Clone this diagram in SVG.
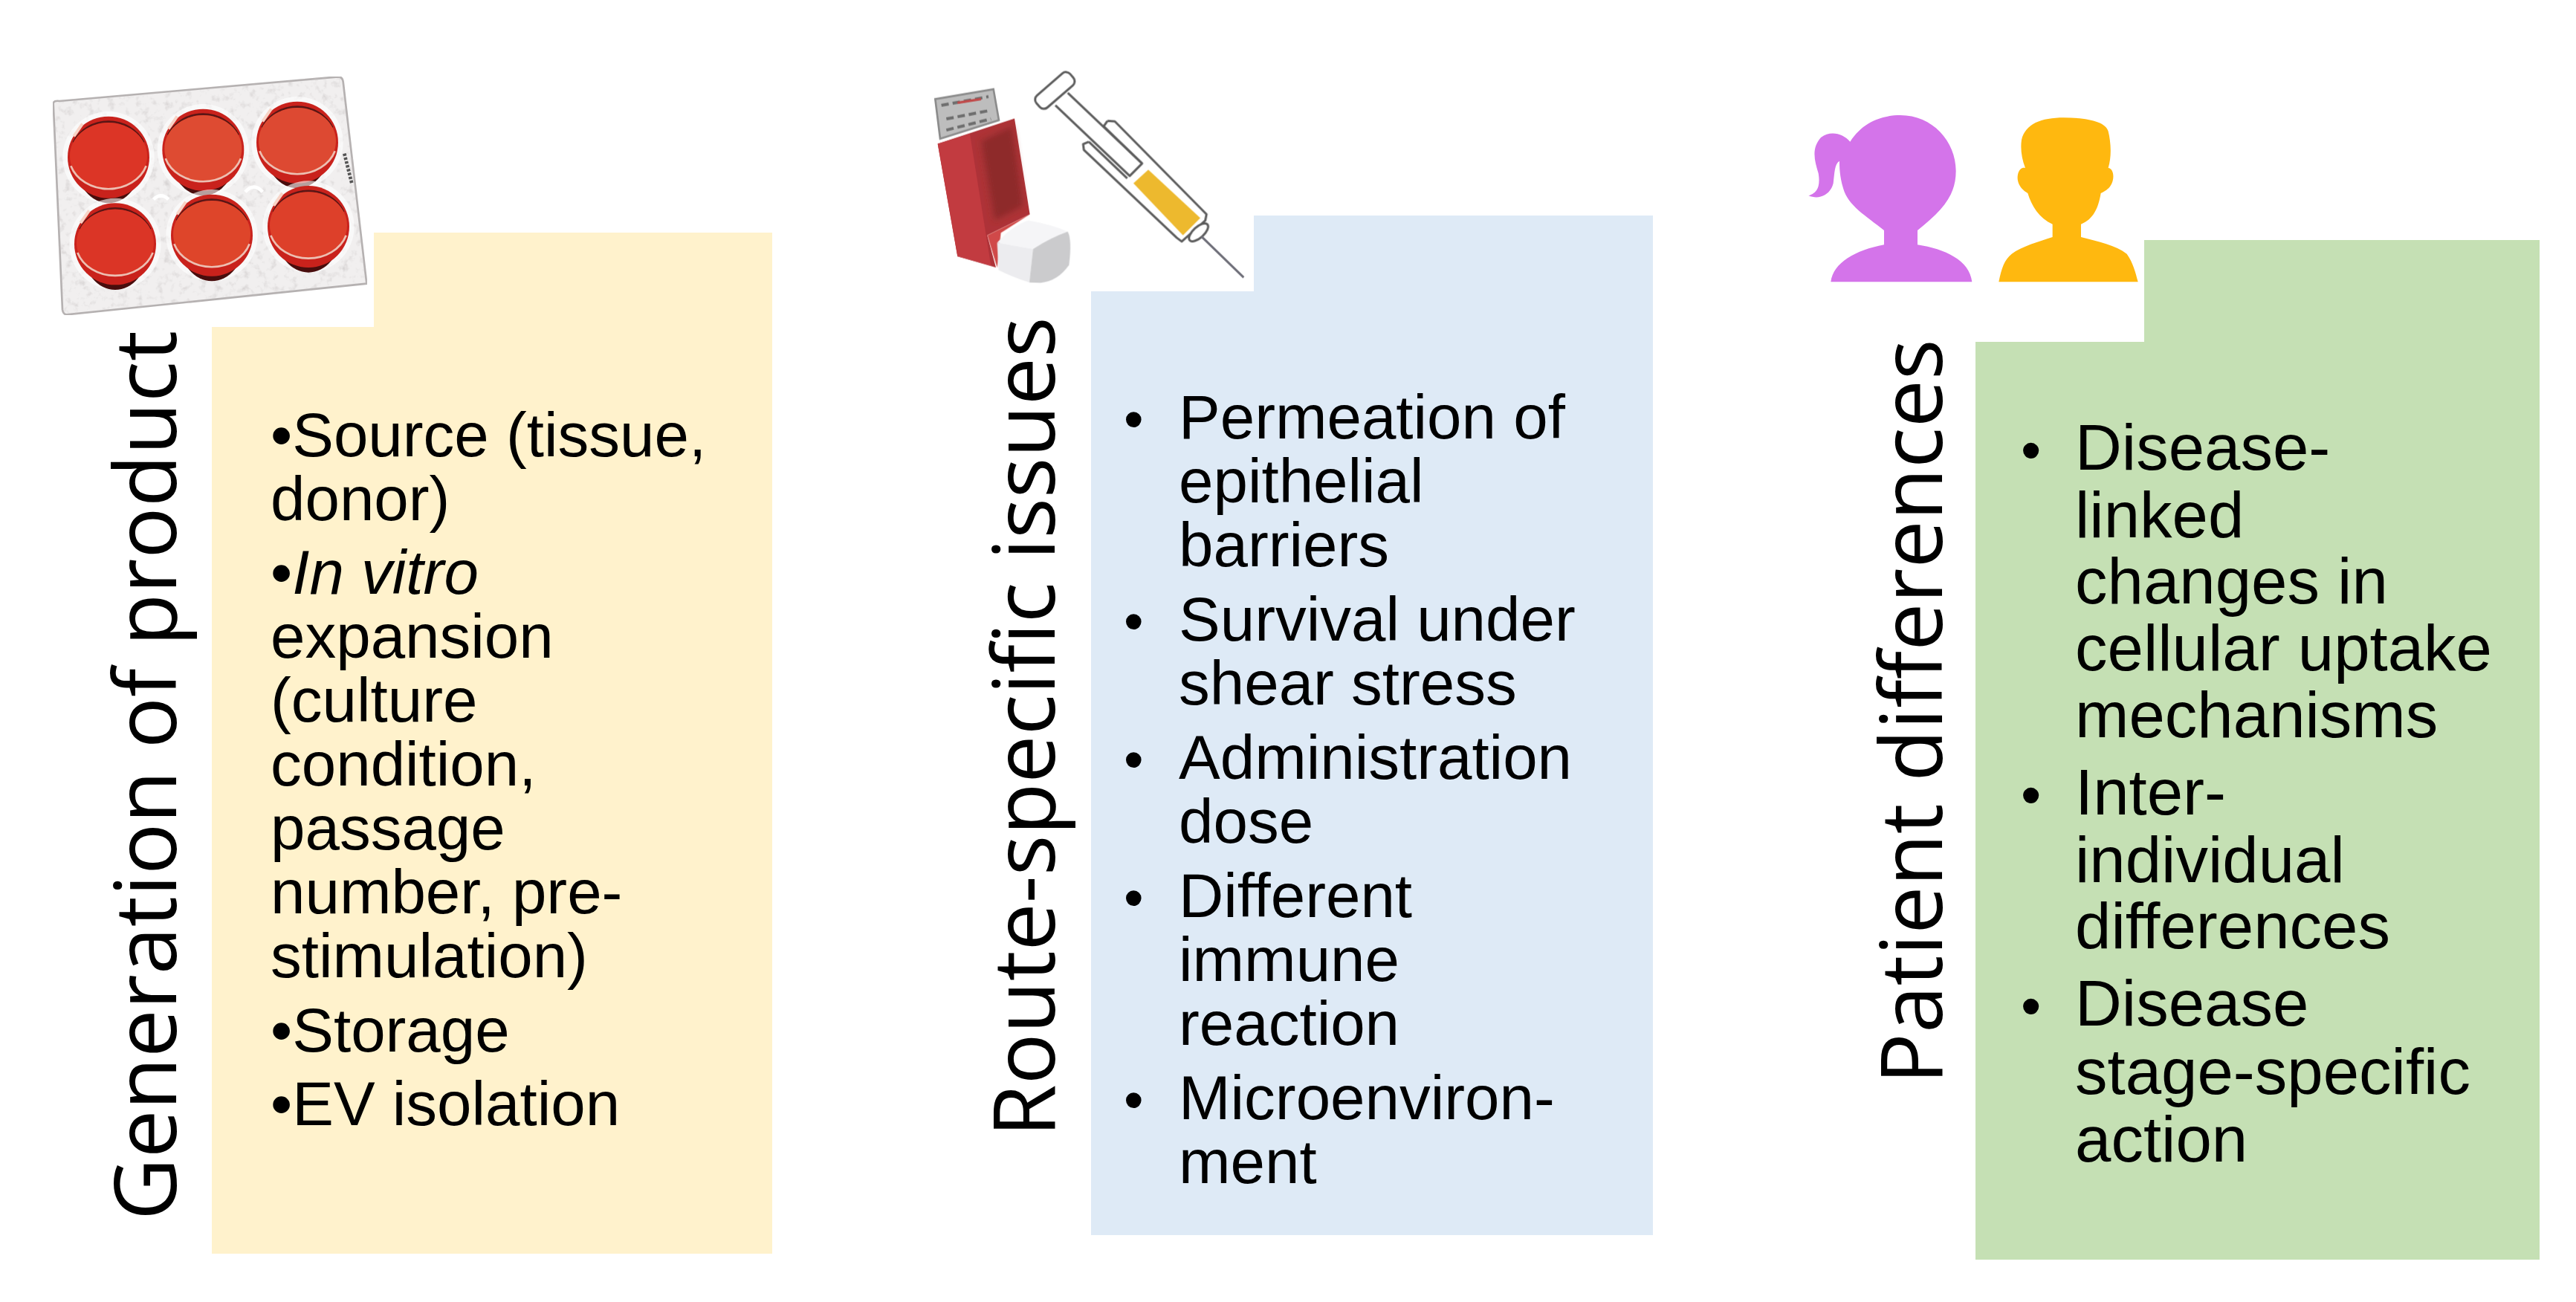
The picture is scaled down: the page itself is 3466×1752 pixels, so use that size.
<svg xmlns="http://www.w3.org/2000/svg" width="3466" height="1752" viewBox="0 0 3466 1752">
<style>
text{font-family:"Liberation Sans",Arial,sans-serif;fill:#000}
.y{font-size:83.5px}
.b{font-size:83.5px}
.g{font-size:87px}
.bb{font-size:76px}
.gb{font-size:78px}
.t{font-family:"Open Sans","Noto Sans",sans-serif;font-size:114.5px}
.t1{font-size:115.2px}
</style>
<defs>
<filter id="soft" x="-5%" y="-5%" width="110%" height="110%"><feGaussianBlur stdDeviation="1.3"/></filter>
<filter id="soft2" x="-20%" y="-20%" width="140%" height="140%"><feGaussianBlur stdDeviation="12"/></filter>
<filter id="mottle" x="0" y="0" width="100%" height="100%">
<feTurbulence type="fractalNoise" baseFrequency="0.035" numOctaves="3" seed="4"/>
<feColorMatrix type="matrix" values="0 0 0 0 0.55  0 0 0 0 0.52  0 0 0 0 0.52  1.5 0 0 0 -0.78"/>
<feComposite in2="SourceGraphic" operator="in" result="n"/>
<feMerge><feMergeNode in="SourceGraphic"/><feMergeNode in="n"/></feMerge>
</filter>
<g id="wl">
<circle r="185" fill="#fff" opacity=".6"/>
<ellipse cx="0" cy="25" rx="130" ry="160" fill="#4A0F0D"/>
<circle cx="0" cy="0" r="165" fill="#C9241E"/>
<path d="M-142,-60A158,150 0 0 1 142,-60" fill="none" stroke="#5A1512" stroke-width="8"/>
<ellipse cx="0" cy="-5" rx="156" ry="135"/>
<path d="M-152,35A160,135 0 0 0 152,35" fill="none" stroke="#EDBFB2" stroke-width="8"/>
<path d="M-140,-85L-105,-135" stroke="#F7D3C6" stroke-width="12" fill="none"/>
</g>
</defs>
<rect width="3466" height="1752" fill="#fff"/>

<g id="product">
<path d="M285,440H503V313H1039V1687H285Z" fill="#FFF2CC"/>
<text class="t t1" transform="translate(237,1642) rotate(-90)">Generation of product</text>
<text class="y" x="364" y="614">•Source (tissue,</text>
<text class="y" x="364" y="700">donor)</text>
<text class="y" x="364" y="799">•<tspan font-style="italic">In vitro</tspan></text>
<text class="y" x="364" y="885">expansion</text>
<text class="y" x="364" y="971">(culture</text>
<text class="y" x="364" y="1057">condition,</text>
<text class="y" x="364" y="1143">passage</text>
<text class="y" x="364" y="1229">number, pre-</text>
<text class="y" x="364" y="1315">stimulation)</text>
<text class="y" x="364" y="1415">•Storage</text>
<text class="y" x="364" y="1514">•EV isolation</text>
<g id="plate" transform="translate(40,70) scale(.33333)">
<g filter="url(#soft)">
<path d="M95,205Q100,195 120,198L1245,100Q1262,100 1265,120L1360,935L150,1060Q135,1060 132,1040Z" fill="#F1EFEF" stroke="#B5B1B1" stroke-width="8" filter="url(#mottle)"/>
<path d="M1270,410L1300,530" stroke="#555" stroke-width="14" stroke-dasharray="10 6"/>
<use href="#wl" x="318" y="425" fill="#DC3626"/><use href="#wl" x="700" y="395" fill="#DE4C30"/><use href="#wl" x="1080" y="365" fill="#DD4A30"/>
<use href="#wl" x="345" y="775" fill="#DB3528"/><use href="#wl" x="735" y="740" fill="#DE442C"/><use href="#wl" x="1125" y="705" fill="#DD402C"/>
<path d="M500,595Q530,565 560,595M870,565Q905,525 940,565" stroke="#fff" stroke-width="14" fill="none"/>
</g>
</g>
</g>

<g id="route">
<path d="M1468,392H1687V290H2224V1662H1468Z" fill="#DEEAF6"/>
<text class="t" transform="translate(1419,1530) rotate(-90)">Route-specific issues</text>
<text class="bb" x="1512" y="590">•</text>
<text class="b" x="1586" y="590">Permeation of</text>
<text class="b" x="1586" y="676">epithelial</text>
<text class="b" x="1586" y="762">barriers</text>
<text class="bb" x="1512" y="862">•</text>
<text class="b" x="1586" y="862">Survival under</text>
<text class="b" x="1586" y="948">shear stress</text>
<text class="bb" x="1512" y="1048">•</text>
<text class="b" x="1586" y="1048">Administration</text>
<text class="b" x="1586" y="1134">dose</text>
<text class="bb" x="1512" y="1234">•</text>
<text class="b" x="1586" y="1234">Different</text>
<text class="b" x="1586" y="1320">immune</text>
<text class="b" x="1586" y="1406">reaction</text>
<text class="bb" x="1512" y="1506">•</text>
<text class="b" x="1586" y="1506">Microenviron-</text>
<text class="b" x="1586" y="1592">ment</text>
<g id="inhaler" transform="translate(1220,70) scale(.33333)">
<g filter="url(#soft)">
<path d="M115,190L350,150L372,275L135,350Z" fill="#BDBDBD" stroke="#8C8C8C" stroke-width="8"/>
<path d="M140,215L330,180M160,270L340,235M160,315L340,270" stroke="#6E6E6E" stroke-width="12" stroke-dasharray="30 16"/>
<path d="M205,205L300,190" stroke="#C04A4A" stroke-width="10"/>
<path d="M125,370L435,268L497,655L325,740L360,870L205,825Z" fill="#AE3337"/>
<path d="M125,370L255,330L340,862L205,825Z" fill="#C23A40"/>
<path d="M300,360L425,300L470,620L355,680Z" fill="#8E2C2C" filter="url(#soft2)"/>
<path d="M325,740L497,655L380,730L365,870Z" fill="#D04A48"/>
<path d="M365,770Q420,705 490,680Q580,695 650,725Q580,750 510,795Z" fill="#F5F5F7"/>
<path d="M365,770L510,795L495,930Q430,910 370,880Z" fill="#ECECEF"/>
<path d="M510,795Q580,750 650,725Q668,760 655,860Q610,925 540,932L495,930Z" fill="#CBCBCD"/>
</g>
</g>
<g id="syringe" transform="translate(1220,70) scale(.33333)" fill="none" stroke="#5D5D5D" stroke-width="9" stroke-linejoin="round">
<g filter="url(#soft)">
<rect x="-90" y="-32" width="180" height="64" rx="22" transform="translate(598,155) rotate(-41)" fill="#fff"/>
<path d="M650,165L950,450L900,500L600,215"/>
<path d="M810,278L840,280L1210,655L1205,680L1110,765L1090,750L715,395L712,372L735,362M810,278L795,300M735,362L890,510M795,300L950,450"/>
<path d="M975,475L1185,670L1115,740L915,530Z" fill="#EDB92E" stroke="none"/>
<ellipse cx="1178" cy="728" rx="48" ry="22" transform="rotate(-42 1178 728)" fill="#fff"/>
<path d="M1190,745L1360,910" stroke="#6E6E78" stroke-width="9"/>
</g>
</g>
</g>

<g id="patient">
<path d="M2658,460H2885V323H3417V1695H2658Z" fill="#C5E0B4"/>
<text class="t" transform="translate(2613,1459) rotate(-90)">Patient differences</text>
<text class="gb" x="2719" y="632">•</text>
<text class="g" x="2792" y="632">Disease-</text>
<text class="g" x="2792" y="723">linked</text>
<text class="g" x="2792" y="812">changes in</text>
<text class="g" x="2792" y="902">cellular uptake</text>
<text class="g" x="2792" y="992">mechanisms</text>
<text class="gb" x="2719" y="1096">•</text>
<text class="g" x="2792" y="1096">Inter-</text>
<text class="g" x="2792" y="1187">individual</text>
<text class="g" x="2792" y="1276">differences</text>
<text class="gb" x="2719" y="1380">•</text>
<text class="g" x="2792" y="1380">Disease</text>
<text class="g" x="2792" y="1472">stage-specific</text>
<text class="g" x="2792" y="1563">action</text>
<g id="people" transform="translate(2400,120) scale(.33333)">
<path id="girl" fill="#D474EA" d="M190,778C200,700 290,650 405,628L405,570C330,510 260,470 240,400C225,350 225,310 225,290C205,300 205,340 200,380C190,420 150,450 100,430C130,420 150,400 140,340C125,290 110,240 150,195C190,165 240,180 268,212C320,130 400,105 470,105C600,105 695,210 695,330C695,430 640,490 540,570L540,628C650,645 750,690 760,778Z"/>
<path id="boy" fill="#FFB80F" d="M868,778C880,720 890,690 920,665C960,635 1030,615 1085,597L1085,545C1030,520 1000,470 985,420C950,400 940,370 945,345C950,320 965,315 975,318C960,280 955,240 960,205C975,140 1040,115 1130,115C1220,115 1300,130 1310,170C1320,210 1325,270 1310,318C1325,320 1335,340 1328,370C1320,400 1300,410 1280,420C1270,480 1250,525 1200,545L1200,597C1270,615 1340,630 1385,665C1410,700 1420,740 1430,778Z"/>
</g>
</g>
</svg>
